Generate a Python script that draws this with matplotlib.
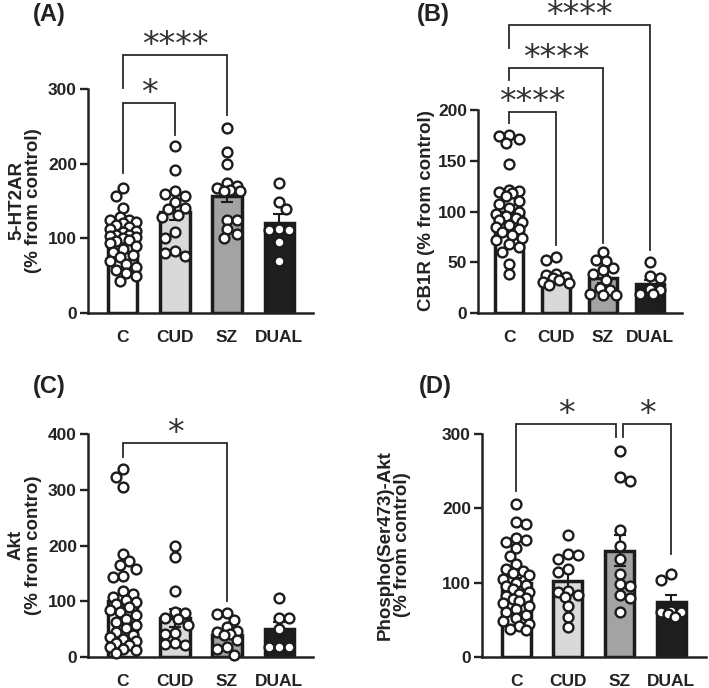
import matplotlib
matplotlib.use('Agg')
import matplotlib.pyplot as plt
import numpy as np

groups = ['C', 'CUD', 'SZ', 'DUAL']

# ---------------- Panel A: 5-HT2AR ----------------
a_c = [167, 157, 140, 128, 125, 124, 122, 120, 118, 115, 113, 110, 108, 105, 105, 103, 102,
       100, 98, 96, 94, 90, 86, 82, 78, 75, 70, 66, 62, 58, 54, 50, 43]
a_cud = [224, 192, 163, 159, 157, 149, 141, 139, 131, 128, 109, 101, 83, 81, 76]
a_sz = [248, 216, 199, 174, 170, 167, 165, 163, 163, 125, 124, 112, 106, 100]
a_dual = [174, 149, 139, 113, 111, 111, 95, 70]
a_means = [100, 135, 157, 120]
a_sem = [5, 11, 9, 12]

# ---------------- Panel B: CB1R ----------------
b_c = [175, 174, 171, 167, 147, 121, 120, 119, 118, 115, 110, 107, 103, 100, 98, 96, 94, 92,
       90, 87, 85, 83, 80, 77, 74, 72, 68, 65, 60, 48, 38]
b_cud = [55, 52, 38, 37, 35, 34, 33, 31, 30, 28]
b_sz = [60, 52, 51, 44, 42, 38, 33, 25, 23, 19, 18, 18]
b_dual = [50, 36, 34, 24, 23, 19, 19]
b_means = [100, 35, 34, 29]
b_sem = [6, 3, 4, 4]

# ---------------- Panel C: Akt ----------------
c_c = [338, 323, 305, 185, 172, 165, 158, 145, 143, 118, 113, 108, 102, 98, 95, 90, 85, 80,
       75, 68, 62, 57, 52, 45, 40, 35, 32, 28, 25, 22, 18, 15, 12, 8]
c_cud = [200, 179, 119, 81, 79, 70, 68, 57, 43, 42, 25, 24, 22]
c_sz = [79, 78, 66, 54, 47, 45, 42, 39, 30, 18, 15, 3]
c_dual = [106, 70, 70, 51, 18, 18, 18]
c_means = [100, 70, 40, 50]
c_sem = [13, 16, 7, 13]

# ---------------- Panel D: Phospho(Ser473)-Akt ----------------
d_c = [206, 181, 179, 160, 158, 155, 147, 136, 125, 118, 116, 113, 110, 105, 100, 97, 95, 92,
       88, 85, 82, 80, 78, 76, 72, 68, 64, 60, 56, 52, 48, 45, 42, 38, 36]
d_cud = [164, 139, 137, 132, 118, 114, 89, 87, 83, 81, 68, 54, 40]
d_sz = [277, 242, 237, 171, 150, 132, 111, 98, 96, 84, 80, 60]
d_dual = [112, 104, 62, 61, 60, 58, 54]
d_means = [100, 102, 143, 74]
d_sem = [6, 12, 21, 10]

bar_colors = ['#ffffff', '#d9d9d9', '#a3a3a3', '#1e1e1e']
EDGE = '#1c1c1c'
TXT = '#222222'
BOLD = dict(family='Liberation Sans', weight='bold', color=TXT)

W, H = 709, 688
fig = plt.figure(figsize=(W / 100, H / 100), dpi=100)


def px_axes(left, top, right, bottom):
    return fig.add_axes([left / W, 1 - bottom / H, (right - left) / W, (bottom - top) / H])


def swarm(ax, xc, vals, max_px=13.5, diam=11.0):
    vals = sorted(vals, reverse=True)
    placed = []
    xs = []
    step = diam * 0.3
    nsteps = int(max_px / step)
    flip = 1
    for v in vals:
        x0, y0 = ax.transData.transform((xc, v))
        cands = [0.0]
        for k in range(1, nsteps + 1):
            cands += [flip * k * step, -flip * k * step]
        flip = -flip
        best = None
        bestd = -1
        chosen = None
        for c in cands:
            if placed:
                d = min(np.hypot(x0 + c - px, y0 - py) for px, py in placed)
            else:
                d = 1e9
            if d >= diam * 0.85:
                chosen = c
                break
            if d > bestd:
                bestd = d
                best = c
        if chosen is None:
            chosen = best
        placed.append((x0 + chosen, y0))
        xd = ax.transData.inverted().transform((x0 + chosen, y0))[0]
        xs.append(xd)
    ax.scatter(xs, vals, s=50, facecolor='white', edgecolor=EDGE, linewidths=1.7,
               zorder=5, clip_on=False)


def bracket(ax, x1, x2, y, yb1, yb2, text, tx=None):
    ax.plot([x1, x1, x2, x2], [yb1, y, y, yb2], color='#2a2a2a', lw=1.3,
            clip_on=False, zorder=6, solid_joinstyle='miter')
    if tx is None:
        tx = (x1 + x2) / 2
    ax.annotate(text, xy=(tx, y), xytext=(0, 0), textcoords='offset points',
                ha='center', va='baseline', fontsize=24, family='DejaVu Sans',
                color='#333333', annotation_clip=False)


def panel(ax, data, means, sem, ylim, yticks, xlim, width):
    ax.set_xlim(*xlim)
    ax.set_ylim(*ylim)
    x = np.arange(len(groups))
    ax.bar(x, means, width=width, color=bar_colors, edgecolor=EDGE, linewidth=2.5, zorder=2)
    ax.errorbar(x, means, yerr=sem, fmt='none', ecolor=EDGE, elinewidth=1.5,
                capsize=4.5, capthick=1.5, zorder=4)
    for i, vals in enumerate(data):
        swarm(ax, i, vals)
    for s in ['top', 'right']:
        ax.spines[s].set_visible(False)
    for s in ['left', 'bottom']:
        ax.spines[s].set_linewidth(1.8)
        ax.spines[s].set_color('#222222')
    ax.set_yticks(yticks)
    ax.set_yticklabels([str(t) for t in yticks], fontsize=12.5, **BOLD)
    ax.set_xticks(x)
    ax.set_xticklabels(groups, fontsize=12.5, **BOLD)
    ax.tick_params(axis='y', length=6, width=1.7, pad=2, color='#222222')
    ax.tick_params(axis='x', length=0, pad=12)
    ax.patch.set_alpha(0)


axA = px_axes(88, 89, 313, 313)
panel(axA, [a_c, a_cud, a_sz, a_dual], a_means, a_sem, (0, 300), [0, 100, 200, 300],
      (-0.67, 3.65), 0.56)
bracket(axA, 0, 1, 281, 187, 238, '*')
bracket(axA, 0, 2, 345, 301, 265, '****')

axB = px_axes(478, 110, 682, 313)
panel(axB, [b_c, b_cud, b_sz, b_dual], b_means, b_sem, (0, 200), [0, 50, 100, 150, 200],
      (-0.66, 3.68), 0.6)
bracket(axB, 0, 1, 198, 187, 67, '****')
bracket(axB, 0, 2, 241, 229.5, 69, '****')
bracket(axB, 0, 3, 284, 261, 62, '****')

axC = px_axes(88, 434, 313, 657)
panel(axC, [c_c, c_cud, c_sz, c_dual], c_means, c_sem, (0, 400), [0, 100, 200, 300, 400],
      (-0.67, 3.65), 0.56)
bracket(axC, 0, 2, 384, 359, 100, '*')

axD = px_axes(482, 434, 706, 657)
panel(axD, [d_c, d_cud, d_sz, d_dual], d_means, d_sem, (0, 300), [0, 100, 200, 300],
      (-0.66, 3.67), 0.56)
bracket(axD, 0, 1.93, 313, 223, 296, '*')
bracket(axD, 2.07, 3, 313, 296, 139, '*')


# y labels
def ylab(xpx, ypx, text):
    fig.text(xpx / W, 1 - ypx / H, text, rotation=90, ha='center', va='center',
             fontsize=13.5, linespacing=1.0, multialignment='center', **BOLD)


ylab(25, 201, '5-HT2AR\n(% from control)')
ylab(427, 211, 'CB1R (% from control)')
ylab(25, 545, 'Akt\n(% from contro)')
ylab(394, 545, 'Phospho(Ser473)-Akt\n(% from control)')

# panel letters
for lx, ly, lab in [(33, 15, '(A)'), (417, 15, '(B)'), (33, 387, '(C)'), (419, 387, '(D)')]:
    fig.text(lx / W, 1 - ly / H, lab, ha='left', va='center', fontsize=17, **BOLD)

fig.savefig('out.png', dpi=100)
